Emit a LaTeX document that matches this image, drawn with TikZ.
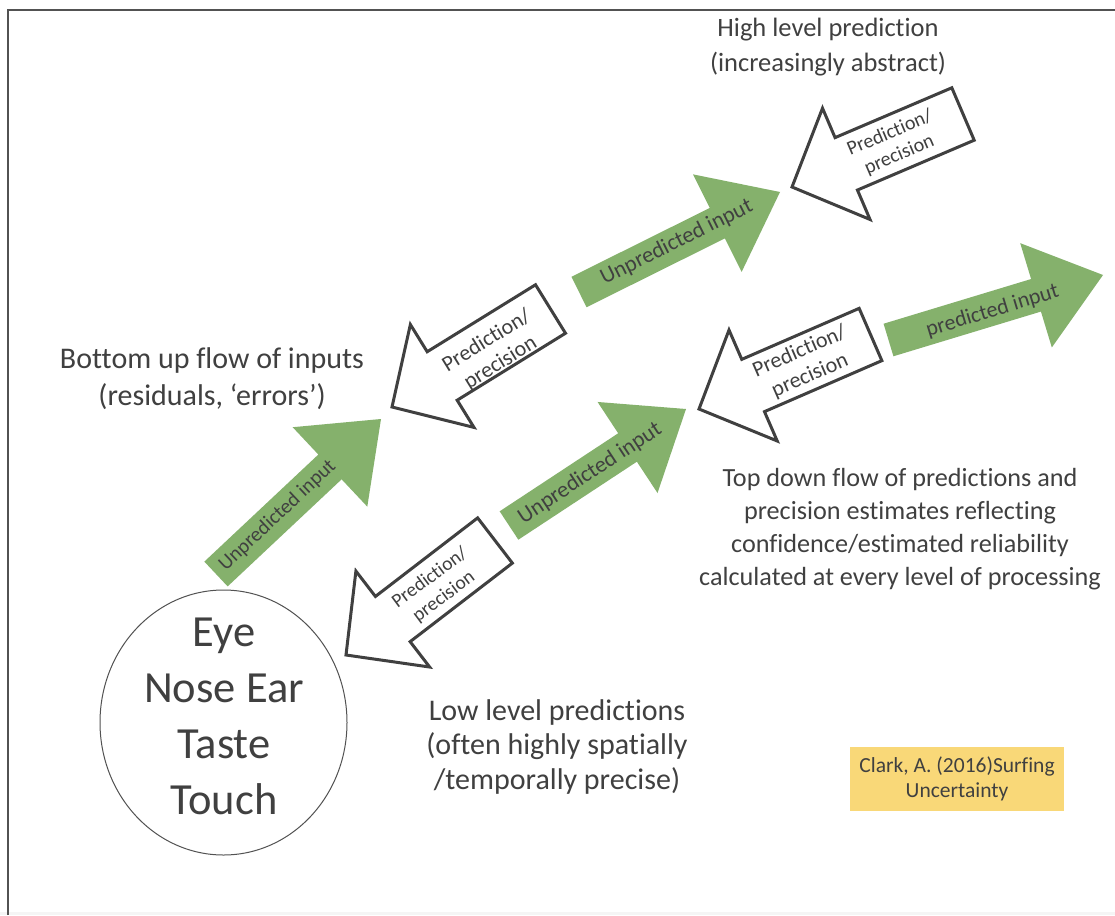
\documentclass[tikz,border=0pt]{standalone}
\usepackage{fontspec}
\setmainfont{Carlito}[Ligatures={TeX,NoCommon}]
\usetikzlibrary{calc,shapes.geometric}

\definecolor{leaf}{RGB}{133,177,108}
\definecolor{ink}{RGB}{64,64,64}
\definecolor{framegray}{RGB}{82,82,82}
\definecolor{notegold}{RGB}{249,216,120}

\newcommand\fsz[2]{\fontsize{#1}{#2}\selectfont}

% Block arrow from the tail centre #2 to the tip #3:
% #4 half shaft width, #5 half head width, #6 head length
\newcommand\blockarrow[6]{%
  \coordinate (#2-neck) at ($(#3)!#6!(#2)$);
  \draw[#1] ($(#2)!#4!90:(#3)$) -- ($(#2-neck)!#4!90:(#3)$)
    -- ($(#2-neck)!#5!90:(#3)$) -- (#3)
    -- ($(#2-neck)!#5!-90:(#3)$) -- ($(#2-neck)!#4!-90:(#3)$)
    -- ($(#2)!#4!-90:(#3)$) -- cycle;
}

\tikzset{
  greenarrow/.style={fill=leaf, draw=none},
  outlinearrow/.style={fill=white, draw=ink, line width=3pt, line join=miter},
  caption/.style={text=ink, align=center, inner sep=0pt},
  arrowlabel/.style={text=ink, align=center, inner sep=0pt},
}

\begin{document}
\begin{tikzpicture}[x=1pt, y=-1pt]
\useasboundingbox (0,0) rectangle (1115,915);
\fill[white] (0,0) rectangle (1115,915);
\fill[black!4] (0,912) rectangle (1115,915);

% slide frame
\draw[framegray, line width=2.5pt] (8,915) -- (8,10) -- (1115,10);

% ---- bottom-up flow (green) ----
\coordinate (g1tail) at (216,574);   \coordinate (g1tip) at (381,419);
\coordinate (g2tail) at (579,292);   \coordinate (g2tip) at (780,192);
\coordinate (g3tail) at (509,525.5); \coordinate (g3tip) at (686,409);
\coordinate (g4tail) at (888.5,340); \coordinate (g4tip) at (1103,275);
\blockarrow{greenarrow}{g1tail}{g1tip}{17pt}{54.5pt}{70pt}
\blockarrow{greenarrow}{g2tail}{g2tip}{17pt}{54.5pt}{70pt}
\blockarrow{greenarrow}{g3tail}{g3tip}{17pt}{54.5pt}{70pt}
\blockarrow{greenarrow}{g4tail}{g4tip}{17pt}{54.5pt}{70pt}

% ---- top-down flow (outlined) ----
\coordinate (w1tail) at (550.5,309);   \coordinate (w1tip) at (392,407);
\coordinate (w2tail) at (963,114);     \coordinate (w2tip) at (792,187);
\coordinate (w3tail) at (870.5,334.5); \coordinate (w3tip) at (699,409);
\coordinate (w4tail) at (495,540.5);   \coordinate (w4tip) at (346,655);
\blockarrow{outlinearrow}{w1tail}{w1tip}{28.5pt}{60.5pt}{59pt}
\blockarrow{outlinearrow}{w2tail}{w2tip}{28.5pt}{60.5pt}{59pt}
\blockarrow{outlinearrow}{w3tail}{w3tip}{28.5pt}{60.5pt}{59pt}
\blockarrow{outlinearrow}{w4tail}{w4tip}{28.5pt}{60.5pt}{59pt}

% arrow labels
\node[arrowlabel, font=\fsz{20.5}{25}, rotate=43.2] (g1label) at (277.5,515.5) {Unpredicted input};
\node[arrowlabel, font=\fsz{22.5}{27}, rotate=26.5] (g2label) at (676.7,242.3) {Unpredicted input};
\node[arrowlabel, font=\fsz{22.5}{27}, rotate=33.3] (g3label) at (590,473.3) {Unpredicted input};
\node[arrowlabel, font=\fsz{22}{27}, rotate=16.9] (g4label) at (992.5,311) {predicted input};

\node[arrowlabel, font=\fsz{22}{26}, rotate=31.7] (w1label) at (493.7,352) {Prediction/\\precision};
\node[arrowlabel, font=\fsz{20}{24}, rotate=23.1] (w2label) at (894.7,144.2) {Prediction/\\precision};
\node[arrowlabel, font=\fsz{22}{26}, rotate=23.5] (w3label) at (804.8,363.7) {Prediction/\\precision};
\node[arrowlabel, font=\fsz{19.5}{23.5}, rotate=36.5] (w4label) at (437,587.5) {Prediction/\\precision};

% sense organs
\node[draw=framegray, line width=1pt, ellipse, minimum width=247pt, minimum height=265pt, inner sep=0pt] (organs) at (223.5,722.5) {};
\node[caption, font=\fsz{44.5}{56}] (organtext) at (224,716) {Eye\\Nose Ear\\Taste\\Touch};

% captions
\node[caption, font=\fsz{26.5}{35}] (highlevel) at (828,47.5) {High level prediction\\(increasingly abstract)};
\node[caption, font=\fsz{30}{37}] (bottomup) at (212,378.5) {Bottom up flow of inputs\\(residuals, ‘errors’)};
\node[caption, font=\fsz{26.2}{33}] (topdown) at (900,529.5) {Top down flow of predictions and\\precision estimates reflecting\\confidence/estimated reliability\\calculated at every level of processing};
\node[caption, font=\fsz{30}{34.5}] (lowlevel) at (557,746.5) {Low level predictions\\(often highly spatially\\/temporally precise)};

% reference note
\node[fill=notegold, text=ink, align=center, minimum width=214pt, minimum height=64pt, inner sep=0pt, font=\fsz{21.5}{25.5}] (cite) at (957,779) {Clark, A. (2016)Surfing\\Uncertainty};
\end{tikzpicture}
\end{document}
